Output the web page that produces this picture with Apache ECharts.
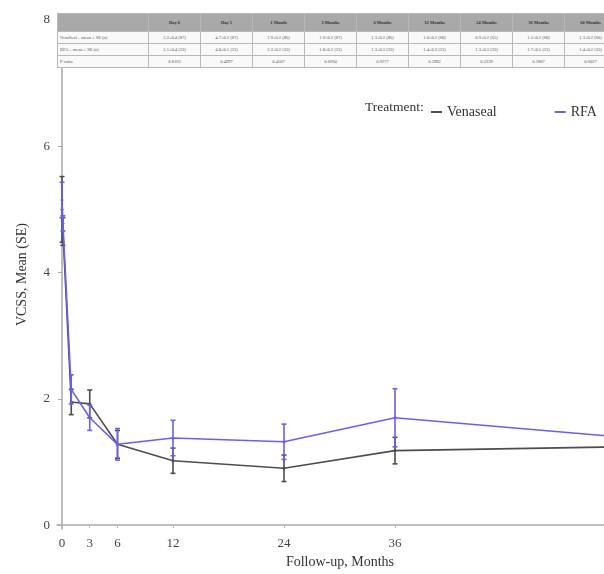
<!DOCTYPE html>
<html>
<head>
<meta charset="utf-8">
<script src="https://cdn.jsdelivr.net/npm/echarts@6/dist/echarts.min.js"></script>
<style>
  html, body { margin: 0; padding: 0; background: #fff; overflow: hidden; }
  #wrap { position: relative; width: 640px; height: 574px; }
  #main { position: absolute; left: 0; top: 0; width: 640px; height: 574px; }
  #tbl { position: absolute; left: 57px; top: 13px; border-collapse: collapse;
         font-family: "Liberation Serif", serif; font-size: 4.5px; color: #555;
         table-layout: fixed; background: #fff; }
  #tbl td, #tbl th { border: 1px solid #b8b8b8; padding: 0 2px; text-align: center;
         white-space: nowrap; overflow: hidden; height: 11px; }
  #tbl th { background: #a9a9a9; color: #333; height: 17px; font-weight: bold; }
  #tbl td.lab { text-align: left; }
  #tbl td { background: #f9f9f9; }
</style>
</head>
<body>
<div id="wrap">
  <div id="main"></div>
  <table id="tbl"></table>
</div>
<script>
// time points (months) and values
var months   = [0, 0.1, 1, 3, 6, 12, 24, 36, 60];
var venaMean = [5.0, 4.65, 1.95, 1.92, 1.28, 1.02, 0.90, 1.18, 1.24];
var venaSE   = [0.52, 0.22, 0.20, 0.22, 0.22, 0.20, 0.21, 0.21, 0.20];
var rfaMean  = [5.15, 4.78, 2.15, 1.70, 1.28, 1.38, 1.32, 1.70, 1.40];
var rfaSE    = [0.28, 0.12, 0.23, 0.20, 0.25, 0.28, 0.28, 0.46, 0.20];

var xTicks = [0, 3, 6, 12, 24, 36, 60];
var yTicks = [0, 2, 4, 6, 8];

// table above the plot
var colHeads = ['Day 0', 'Day 5', '1 Month', '3 Months', '6 Months', '12 Months', '24 Months', '36 Months', '60 Months'];
var venaRow  = ['5.2±0.4 (87)', '4.7±0.2 (87)', '1.9±0.2 (86)', '1.9±0.2 (87)', '1.3±0.2 (86)', '1.0±0.2 (68)', '0.9±0.2 (65)', '1.2±0.2 (68)', '1.3±0.2 (60)'];
var rfaRow   = ['5.1±0.4 (33)', '4.8±0.1 (33)', '2.2±0.2 (33)', '1.8±0.2 (33)', '1.3±0.3 (33)', '1.4±0.3 (33)', '1.3±0.3 (33)', '1.7±0.5 (33)', '1.4±0.2 (33)'];
var pRow     = ['0.8163', '0.4997', '0.4507', '0.6694', '0.9277', '0.3982', '0.2239', '0.3907', '0.6027'];
var rowLabels = ['VenaSeal – mean ± SE (n)', 'RFA – mean ± SE (n)', 'P value'];

(function buildTable() {
  var t = document.getElementById('tbl');
  var html = '<colgroup><col style="width:91px">';
  colHeads.forEach(function () { html += '<col style="width:52px">'; });
  html += '</colgroup><tr><th></th>';
  colHeads.forEach(function (h) { html += '<th>' + h + '</th>'; });
  html += '</tr>';
  [venaRow, rfaRow, pRow].forEach(function (row, i) {
    html += '<tr><td class="lab">' + rowLabels[i] + '</td>';
    row.forEach(function (v) { html += '<td>' + v + '</td>'; });
    html += '</tr>';
  });
  t.innerHTML = html;
})();

var VENA = '#4d4d4d';
var RFA = '#6b5ff0';

function pairs(m) { return months.map(function (x, i) { return [x, m[i]]; }); }
function bars(m, se) { return months.map(function (x, i) { return [x, m[i] - se[i], m[i] + se[i]]; }); }

function errBar(color) {
  return function (params, api) {
    var x = api.value(0);
    var lo = api.coord([x, api.value(1)]);
    var hi = api.coord([x, api.value(2)]);
    var w = 2.5;
    var st = { stroke: color, lineWidth: 1.6 };
    return {
      type: 'group',
      children: [
        { type: 'line', shape: { x1: hi[0], y1: hi[1], x2: lo[0], y2: lo[1] }, style: st },
        { type: 'line', shape: { x1: hi[0] - w, y1: hi[1], x2: hi[0] + w, y2: hi[1] }, style: st },
        { type: 'line', shape: { x1: lo[0] - w, y1: lo[1], x2: lo[0] + w, y2: lo[1] }, style: st }
      ]
    };
  };
}

var font = '"Liberation Serif", "Times New Roman", serif';

var chart = echarts.init(document.getElementById('main'));
chart.setOption({
  animation: false,
  grid: { left: 57, right: 17, top: 20, bottom: 42 },
  legend: {
    left: 426, top: 100,
    itemWidth: 11, itemHeight: 2, itemGap: 58,
    icon: 'rect',
    textStyle: { fontFamily: font, fontSize: 14, color: '#333' },
    data: ['Venaseal', 'RFA']
  },
  graphic: [{
    type: 'text', left: 365, top: 100,
    style: { text: 'Treatment:', fontFamily: font, fontSize: 13.5, fill: '#333' }
  }],
  xAxis: {
    type: 'value', min: -0.54, max: 60.65,
    name: 'Follow-up, Months', nameLocation: 'middle', nameGap: 24,
    nameTextStyle: { fontFamily: font, fontSize: 14, color: '#333' },
    axisLine: { lineStyle: { color: '#aaa', width: 1.5 } },
    axisTick: { show: true, customValues: xTicks, length: 3, lineStyle: { color: '#bbb' } },
    axisLabel: { customValues: xTicks, fontFamily: font, fontSize: 13, color: '#444', margin: 8 },
    splitLine: { show: false }
  },
  yAxis: {
    type: 'value', min: -0.063, max: 8,
    name: 'VCSS, Mean (SE)', nameLocation: 'middle', nameGap: 28,
    nameTextStyle: { fontFamily: font, fontSize: 14, color: '#333' },
    axisLine: { show: true, lineStyle: { color: '#aaa', width: 1.5 } },
    axisTick: { show: true, customValues: yTicks, length: 4, lineStyle: { color: '#aaa' } },
    axisLabel: { customValues: yTicks, fontFamily: font, fontSize: 13, color: '#444', margin: 7 },
    splitLine: { show: false }
  },
  series: [
    {
      name: 'Venaseal', type: 'line', data: pairs(venaMean),
      symbol: 'circle', symbolSize: 3,
      lineStyle: { color: VENA, width: 1.6 }, itemStyle: { color: VENA }, z: 3
    },
    {
      name: 'RFA', type: 'line', data: pairs(rfaMean),
      symbol: 'circle', symbolSize: 3,
      lineStyle: { color: RFA, width: 1.6 }, itemStyle: { color: RFA }, z: 4
    },
    {
      name: 'Venaseal', type: 'custom', renderItem: errBar(VENA),
      data: bars(venaMean, venaSE), encode: { x: 0, y: [1, 2] }, z: 3
    },
    {
      name: 'RFA', type: 'custom', renderItem: errBar(RFA),
      data: bars(rfaMean, rfaSE), encode: { x: 0, y: [1, 2] }, z: 4
    }
  ]
});
</script>
</body>
</html>
